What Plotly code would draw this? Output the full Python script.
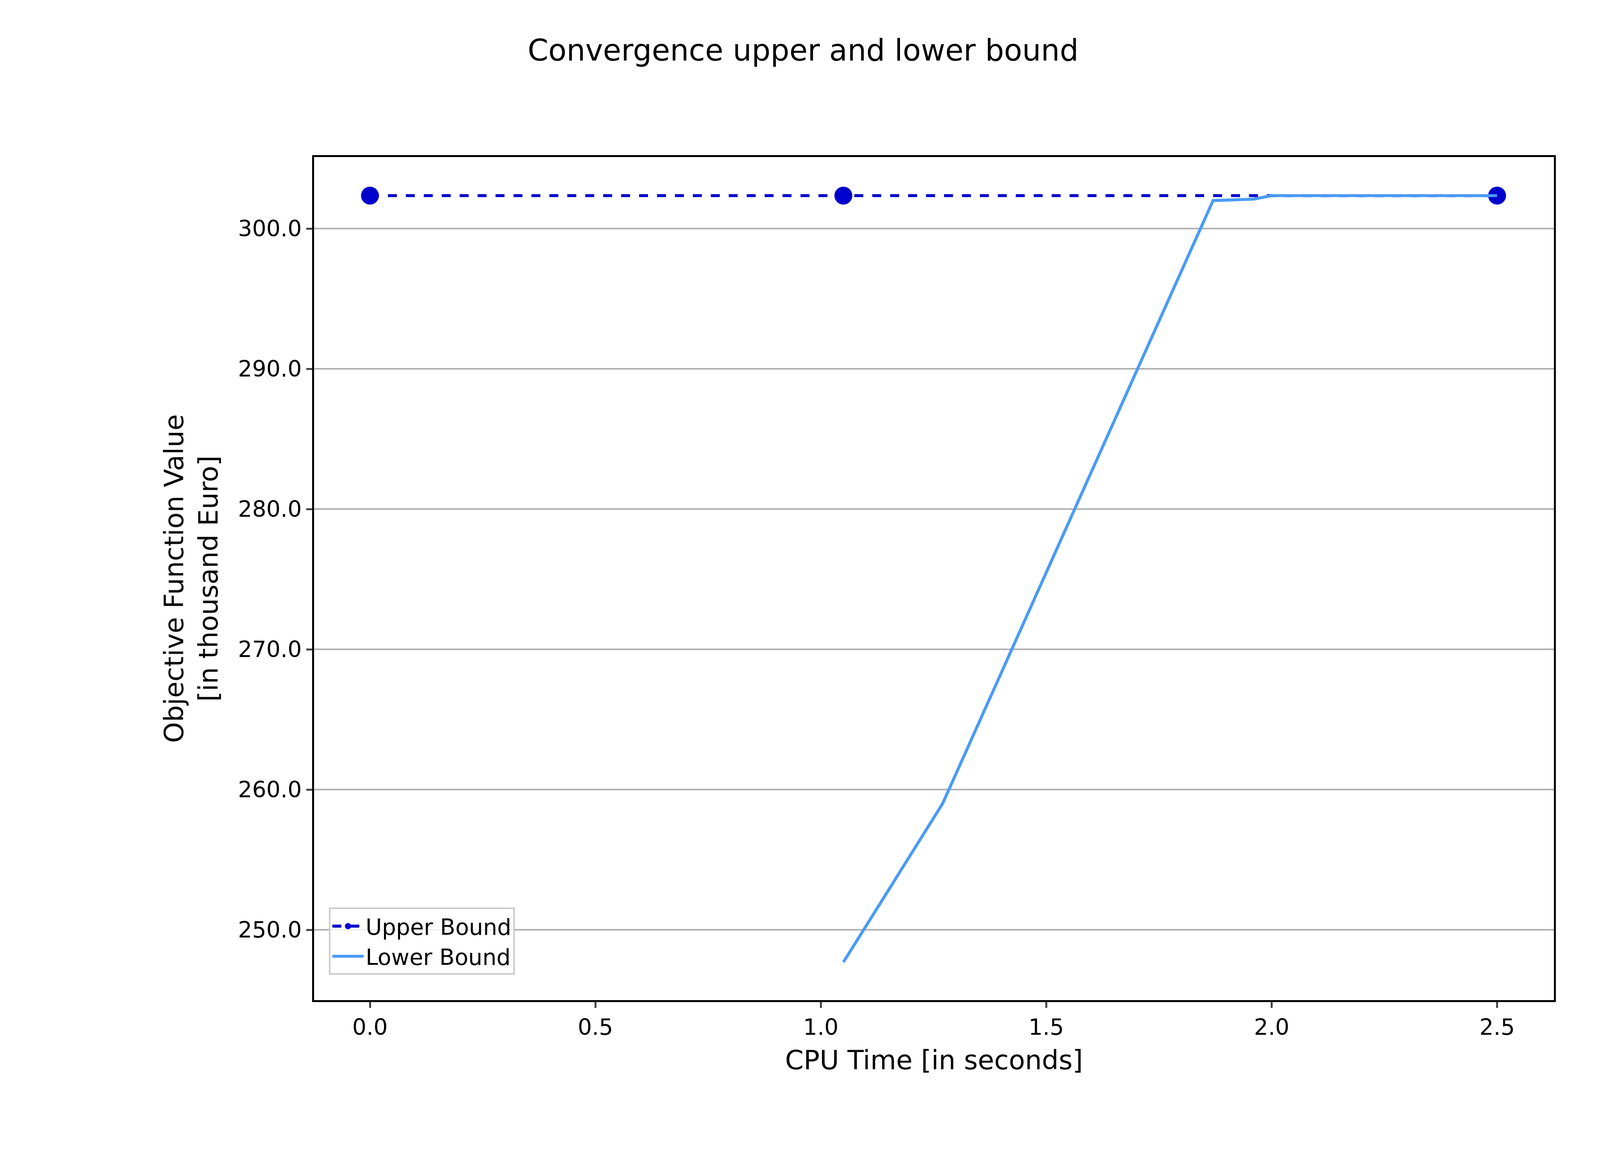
import plotly.graph_objects as go

ub_x = [0.0, 1.05, 2.5]
ub_y = [302.35, 302.35, 302.35]
lb_x = [1.05, 1.27, 1.87, 1.96, 2.0, 2.5]
lb_y = [247.7, 259.0, 302.0, 302.1, 302.35, 302.35]

S = 3.827
fig = go.Figure()
fig.add_trace(go.Scatter(x=ub_x, y=ub_y, mode="lines+markers", name="Upper Bound",
                         line=dict(color="#0000cd", width=2*S, dash="dash"),
                         marker=dict(size=12*S, color="#0000cd")))
fig.add_trace(go.Scatter(x=lb_x, y=lb_y, mode="lines", name="Lower Bound",
                         line=dict(color="#4a9bf5", width=2*S)))
fig.update_layout(
    autosize=True, plot_bgcolor="white", paper_bgcolor="white",
    font=dict(family="DejaVu Sans", size=int(15*S), color="black"),
    title=dict(text="Convergence upper and lower bound", x=0.5, xanchor="center",
               y=0.96, yanchor="middle", font=dict(size=int(20*S))),
    margin=dict(l=796, r=126, t=394, b=448),
    xaxis=dict(range=[-0.124, 2.626], tickvals=[0, 0.5, 1.0, 1.5, 2.0, 2.5],
               ticktext=["0.0", "0.5", "1.0", "1.5", "2.0", "2.5"],
               showgrid=False, showline=True, linecolor="black", linewidth=1.2*S, mirror=True,
               ticks="outside", ticklen=4*S, tickwidth=1.2*S, zeroline=False,
               title=dict(text="CPU Time [in seconds]", standoff=8*S)),
    yaxis=dict(range=[245.0, 305.1], tickvals=[250, 260, 270, 280, 290, 300],
               ticktext=["250.0", "260.0", "270.0", "280.0", "290.0", "300.0"],
               showgrid=True, gridcolor="#b0b0b0", gridwidth=1*S,
               showline=True, linecolor="black", linewidth=1.2*S, mirror=True,
               ticks="outside", ticklen=4*S, tickwidth=1.2*S, zeroline=False,
               title=dict(text="Objective Function Value<br>[in thousand Euro]", standoff=8*S)),
    legend=dict(x=0.012, y=0.03, xanchor="left", yanchor="bottom",
                bgcolor="rgba(255,255,255,0.8)", bordercolor="#cccccc", borderwidth=1*S,
                font=dict(size=int(15*S)), itemwidth=80),
)
fig.write_html("out.html", default_width="100vw", default_height="100vh",
               config={"responsive": True})
